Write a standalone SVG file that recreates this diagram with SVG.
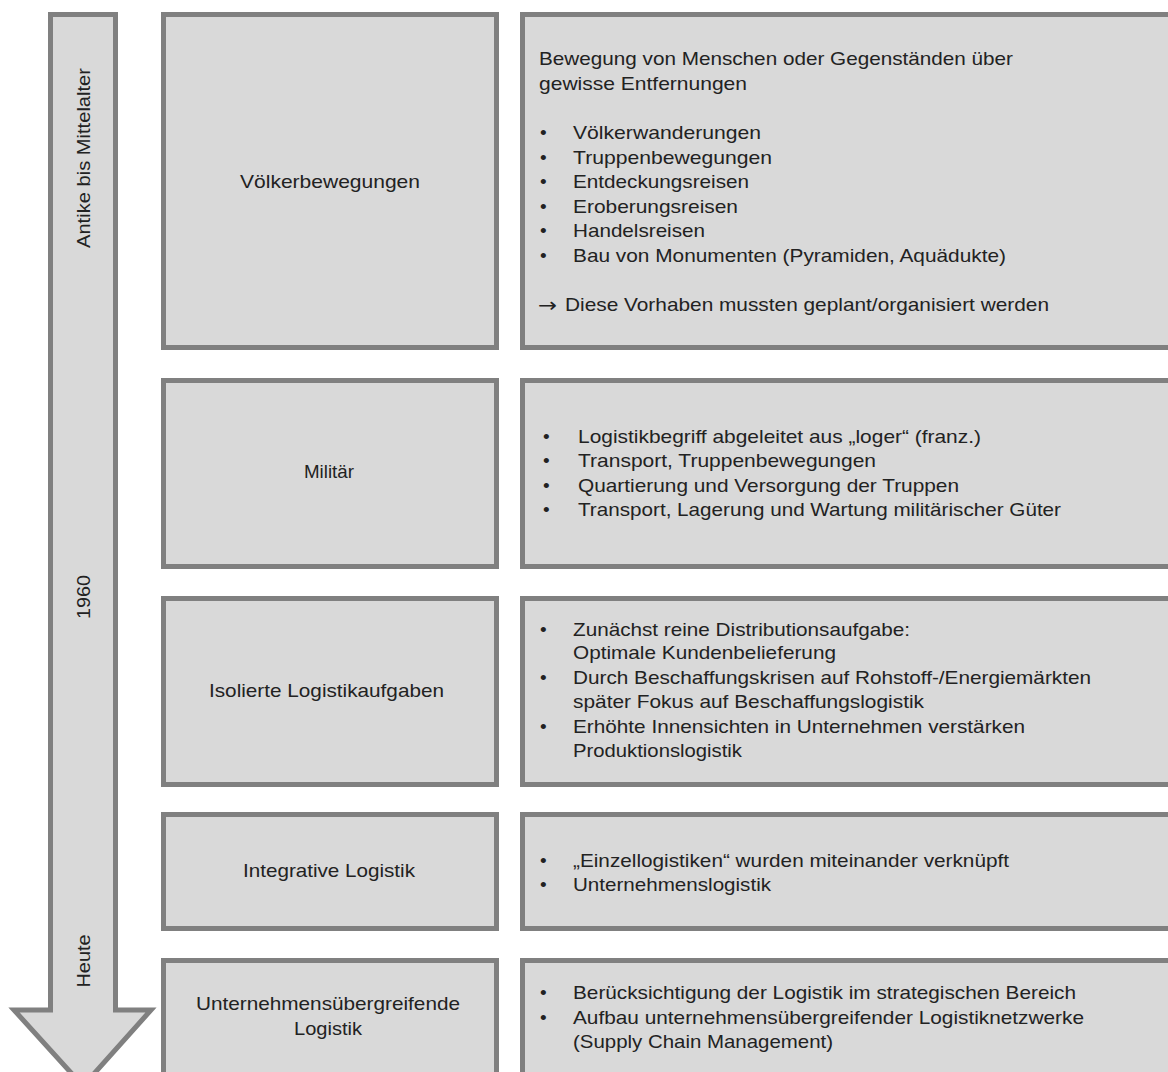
<svg xmlns="http://www.w3.org/2000/svg" width="1168" height="1072" viewBox="0 0 1168 1072">
<style>
.box{fill:#d9d9d9;stroke:#808080;stroke-width:5}
.t{font-family:"Liberation Sans",Arial,sans-serif;font-size:19px;fill:#222}
.c{text-anchor:middle}
.arr{font-family:"DejaVu Sans",sans-serif;font-size:20px;fill:#222}
</style>
<rect width="1168" height="1072" fill="#ffffff"/>
<g id="timeline-arrow">
<path class="box" d="M50.5,14.5 H115.5 V1010 H151 L83,1086 L14,1010 H50.5 Z"/>
<text class="t c" transform="translate(90,158) rotate(-90)" textLength="180" lengthAdjust="spacingAndGlyphs">Antike bis Mittelalter</text>
<text class="t c" transform="translate(90,597) rotate(-90)" textLength="44" lengthAdjust="spacingAndGlyphs">1960</text>
<text class="t c" transform="translate(90,961) rotate(-90)" textLength="53" lengthAdjust="spacingAndGlyphs">Heute</text>
</g>
<g id="connectors"></g>
<g id="row1-label">
<rect class="box" x="163.5" y="14.5" width="333" height="333"/>
<text class="t" x="240" y="188" textLength="180" lengthAdjust="spacingAndGlyphs">Völkerbewegungen</text>
</g>
<g id="row1-content">
<rect class="box" x="522.5" y="14.5" width="660" height="333"/>
<text class="t" x="539" y="65" textLength="474" lengthAdjust="spacingAndGlyphs">Bewegung von Menschen oder Gegenständen über</text>
<text class="t" x="539" y="90" textLength="208" lengthAdjust="spacingAndGlyphs">gewisse Entfernungen</text>
<text class="t" x="540" y="139">•</text><text class="t" x="573" y="139" textLength="188" lengthAdjust="spacingAndGlyphs">Völkerwanderungen</text>
<text class="t" x="540" y="164">•</text><text class="t" x="573" y="164" textLength="199" lengthAdjust="spacingAndGlyphs">Truppenbewegungen</text>
<text class="t" x="540" y="188">•</text><text class="t" x="573" y="188" textLength="176" lengthAdjust="spacingAndGlyphs">Entdeckungsreisen</text>
<text class="t" x="540" y="213">•</text><text class="t" x="573" y="213" textLength="165" lengthAdjust="spacingAndGlyphs">Eroberungsreisen</text>
<text class="t" x="540" y="237">•</text><text class="t" x="573" y="237" textLength="132" lengthAdjust="spacingAndGlyphs">Handelsreisen</text>
<text class="t" x="540" y="262">•</text><text class="t" x="573" y="262" textLength="433" lengthAdjust="spacingAndGlyphs">Bau von Monumenten  (Pyramiden,  Aquädukte)</text>
<text class="arr" x="538" y="312" textLength="19" lengthAdjust="spacingAndGlyphs">→</text>
<text class="t" x="565" y="311" textLength="484" lengthAdjust="spacingAndGlyphs">Diese Vorhaben mussten geplant/organisiert werden</text>
</g>
<g id="row2-label">
<rect class="box" x="163.5" y="380.5" width="333" height="186"/>
<text class="t" x="304" y="478" textLength="50" lengthAdjust="spacingAndGlyphs">Militär</text>
</g>
<g id="row2-content">
<rect class="box" x="522.5" y="380.5" width="660" height="186"/>
<text class="t" x="543" y="443">•</text><text class="t" x="578" y="443" textLength="403" lengthAdjust="spacingAndGlyphs">Logistikbegriff abgeleitet aus „loger“ (franz.)</text>
<text class="t" x="543" y="467">•</text><text class="t" x="578" y="467" textLength="298" lengthAdjust="spacingAndGlyphs">Transport, Truppenbewegungen</text>
<text class="t" x="543" y="492">•</text><text class="t" x="578" y="492" textLength="381" lengthAdjust="spacingAndGlyphs">Quartierung und Versorgung der Truppen</text>
<text class="t" x="543" y="516">•</text><text class="t" x="578" y="516" textLength="483" lengthAdjust="spacingAndGlyphs">Transport, Lagerung und Wartung militärischer Güter</text>
</g>
<g id="row3-label">
<rect class="box" x="163.5" y="598.5" width="333" height="186"/>
<text class="t" x="209" y="697" textLength="235" lengthAdjust="spacingAndGlyphs">Isolierte Logistikaufgaben</text>
</g>
<g id="row3-content">
<rect class="box" x="522.5" y="598.5" width="660" height="186"/>
<text class="t" x="540" y="636">•</text><text class="t" x="573" y="636" textLength="337" lengthAdjust="spacingAndGlyphs">Zunächst reine Distributionsaufgabe:</text>
<text class="t" x="573" y="659" textLength="263" lengthAdjust="spacingAndGlyphs">Optimale  Kundenbelieferung</text>
<text class="t" x="540" y="684">•</text><text class="t" x="573" y="684" textLength="518" lengthAdjust="spacingAndGlyphs">Durch Beschaffungskrisen auf Rohstoff-/Energiemärkten</text>
<text class="t" x="573" y="708" textLength="351" lengthAdjust="spacingAndGlyphs">später Fokus auf Beschaffungslogistik</text>
<text class="t" x="540" y="733">•</text><text class="t" x="573" y="733" textLength="452" lengthAdjust="spacingAndGlyphs">Erhöhte Innensichten in Unternehmen verstärken</text>
<text class="t" x="573" y="757" textLength="169" lengthAdjust="spacingAndGlyphs">Produktionslogistik</text>
</g>
<g id="row4-label">
<rect class="box" x="163.5" y="814.5" width="333" height="114"/>
<text class="t" x="243" y="877" textLength="172" lengthAdjust="spacingAndGlyphs">Integrative Logistik</text>
</g>
<g id="row4-content">
<rect class="box" x="522.5" y="814.5" width="660" height="114"/>
<text class="t" x="540" y="867">•</text><text class="t" x="573" y="867" textLength="436" lengthAdjust="spacingAndGlyphs">„Einzellogistiken“ wurden miteinander verknüpft</text>
<text class="t" x="540" y="891">•</text><text class="t" x="573" y="891" textLength="198" lengthAdjust="spacingAndGlyphs">Unternehmenslogistik</text>
</g>
<g id="row5-label">
<rect class="box" x="163.5" y="960.5" width="333" height="130"/>
<text class="t" x="196" y="1010" textLength="264" lengthAdjust="spacingAndGlyphs">Unternehmensübergreifende</text>
<text class="t" x="294" y="1035" textLength="68" lengthAdjust="spacingAndGlyphs">Logistik</text>
</g>
<g id="row5-content">
<rect class="box" x="522.5" y="960.5" width="660" height="130"/>
<text class="t" x="540" y="999">•</text><text class="t" x="573" y="999" textLength="503" lengthAdjust="spacingAndGlyphs">Berücksichtigung der Logistik im  strategischen Bereich</text>
<text class="t" x="540" y="1024">•</text><text class="t" x="573" y="1024" textLength="511" lengthAdjust="spacingAndGlyphs">Aufbau unternehmensübergreifender Logistiknetzwerke</text>
<text class="t" x="573" y="1048" textLength="260" lengthAdjust="spacingAndGlyphs">(Supply Chain  Management)</text>
</g>
</svg>
